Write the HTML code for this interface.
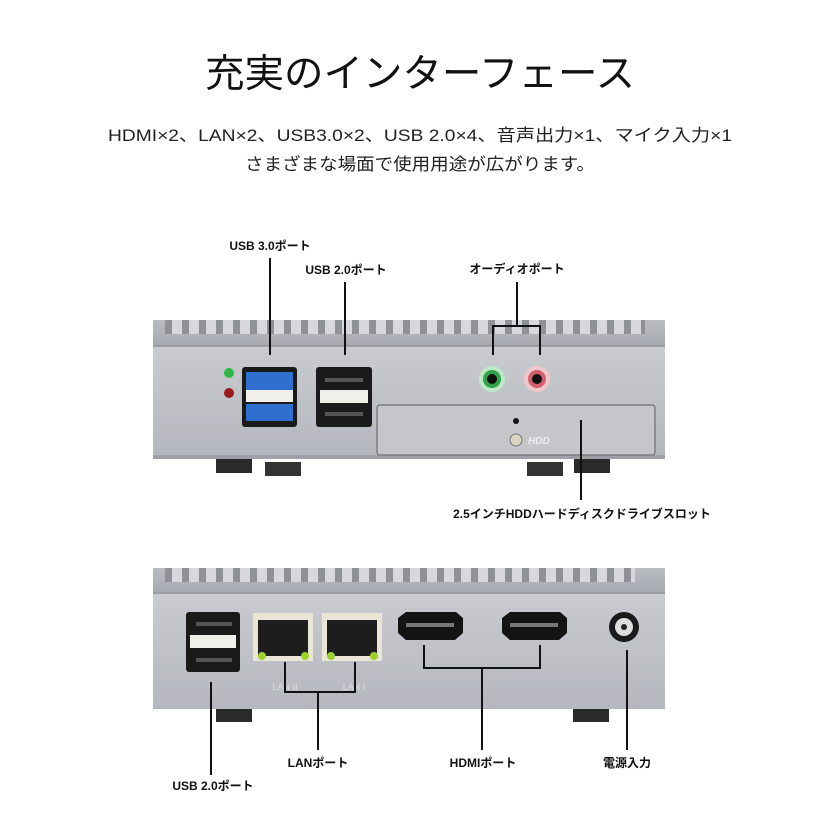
<!DOCTYPE html>
<html><head><meta charset="utf-8"><style>
html,body{margin:0;padding:0;background:#fff;}
svg{display:block;}
text{font-family:"Liberation Sans","Noto Sans CJK JP",sans-serif;}
</style></head><body>
<svg width="840" height="840" viewBox="0 0 840 840" xmlns="http://www.w3.org/2000/svg">
<defs>
<linearGradient id="face" x1="0" y1="0" x2="0" y2="1"><stop offset="0" stop-color="#c9cbd0"/><stop offset="1" stop-color="#b4b7bd"/></linearGradient>
<linearGradient id="top" x1="0" y1="0" x2="0" y2="1"><stop offset="0" stop-color="#b9bcc1"/><stop offset="1" stop-color="#a5a8ae"/></linearGradient>
<pattern id="fins" x="165" y="0" width="17" height="30" patternUnits="userSpaceOnUse"><rect x="0" y="0" width="7" height="30" fill="#8e9197"/><rect x="7" y="0" width="10" height="30" fill="#d6d8db"/></pattern>
</defs>
<rect width="840" height="840" fill="#fff"/>
<text x="420" y="87" font-size="39" text-anchor="middle" textLength="430" lengthAdjust="spacingAndGlyphs" fill="#111">充実のインターフェース</text>
<text x="420" y="141" font-size="17" text-anchor="middle" textLength="624" lengthAdjust="spacingAndGlyphs" fill="#222">HDMI×2、LAN×2、USB3.0×2、USB 2.0×4、音声出力×1、マイク入力×1</text>
<text x="420" y="170" font-size="17" text-anchor="middle" textLength="350" lengthAdjust="spacingAndGlyphs" fill="#222">さまざまな場面で使用用途が広がります。</text>

<!-- TOP DEVICE -->
<rect x="216" y="455" width="36" height="18" fill="#2a2a2a"/>
<rect x="265" y="462" width="36" height="14" fill="#333"/>
<rect x="527" y="462" width="36" height="14" fill="#333"/>
<rect x="574" y="455" width="36" height="18" fill="#2a2a2a"/>
<rect x="153" y="320" width="512" height="28" fill="url(#top)"/>
<rect x="165" y="320" width="480" height="14" fill="url(#fins)"/>
<rect x="153" y="346" width="512" height="110" fill="url(#face)"/>
<line x1="153" y1="346" x2="665" y2="346" stroke="#8f9298" stroke-width="1.5"/>
<rect x="153" y="455" width="512" height="4" fill="#9da0a5"/>
<circle cx="229" cy="373" r="5" fill="#2fb84a"/>
<circle cx="229" cy="393" r="5" fill="#9c1a1a"/>
<rect x="242" y="367" width="55" height="60" rx="3" fill="#1a1a1a"/>
<rect x="246" y="372" width="47" height="18" fill="#2e6fd0"/>
<rect x="246" y="390" width="47" height="12" fill="#f0efea"/>
<rect x="246" y="404" width="47" height="17" fill="#2e6fd0"/>
<rect x="316" y="367" width="56" height="60" rx="3" fill="#1a1a1a"/>
<rect x="320" y="390" width="48" height="13" fill="#f0efea"/>
<rect x="325" y="378" width="38" height="4" fill="#555"/>
<rect x="325" y="412" width="38" height="4" fill="#555"/>
<circle cx="492" cy="379" r="13" fill="#bfe8c8"/><circle cx="492" cy="379" r="9" fill="#2fa24a"/><circle cx="492" cy="379" r="5" fill="#111"/>
<circle cx="537" cy="379" r="13" fill="#f0c8cc"/><circle cx="537" cy="379" r="9" fill="#d0606c"/><circle cx="537" cy="379" r="5" fill="#111"/>
<rect x="377" y="405" width="278" height="50" rx="3" fill="#c4c6ca" stroke="#7a7d82" stroke-width="1.5"/>
<circle cx="516" cy="421" r="3" fill="#111"/>
<circle cx="516" cy="440" r="6" fill="#d9d6bf" stroke="#777"/>
<text x="528" y="444" font-size="10" font-style="italic" font-weight="bold" fill="#eee">HDD</text>

<g stroke="#111" stroke-width="2" fill="none">
<line x1="270" y1="258" x2="270" y2="355"/>
<line x1="345" y1="282" x2="345" y2="355"/>
<polyline points="517,282 517,326"/>
<polyline points="493,355 493,326 540,326 540,355"/>
<line x1="581" y1="420" x2="581" y2="500"/>
</g>
<g font-size="12" font-weight="bold" text-anchor="middle" fill="#111">
<text x="270" y="250">USB 3.0ポート</text>
<text x="346" y="274">USB 2.0ポート</text>
<text x="517" y="273">オーディオポート</text>
<text x="582" y="518">2.5インチHDDハードディスクドライブスロット</text>
</g>

<!-- BOTTOM DEVICE -->
<rect x="216" y="708" width="36" height="14" fill="#2a2a2a"/>
<rect x="573" y="708" width="36" height="14" fill="#2a2a2a"/>
<rect x="153" y="568" width="512" height="27" fill="url(#top)"/>
<rect x="165" y="568" width="470" height="14" fill="url(#fins)"/>
<rect x="153" y="593" width="512" height="116" fill="url(#face)"/>
<line x1="153" y1="593" x2="665" y2="593" stroke="#8f9298" stroke-width="1.5"/>
<rect x="186" y="612" width="54" height="60" rx="3" fill="#1a1a1a"/>
<rect x="190" y="635" width="46" height="13" fill="#f0efea"/>
<rect x="196" y="622" width="36" height="4" fill="#555"/>
<rect x="196" y="658" width="36" height="4" fill="#555"/>
<rect x="253" y="613" width="60" height="48" fill="#e9e6d8"/><rect x="258" y="620" width="50" height="36" fill="#1d1d1d"/>
<circle cx="262" cy="656" r="4" fill="#9fd02c"/><circle cx="305" cy="656" r="4" fill="#9fd02c"/>
<rect x="322" y="613" width="60" height="48" fill="#e9e6d8"/><rect x="327" y="620" width="50" height="36" fill="#1d1d1d"/>
<circle cx="331" cy="656" r="4" fill="#9fd02c"/><circle cx="374" cy="656" r="4" fill="#9fd02c"/>
<path d="M398 618 L406 612 L456 612 L463 618 L463 633 L455 640 L406 640 L398 633 Z" fill="#141414"/>
<rect x="406" y="623" width="48" height="4" fill="#777"/>
<path d="M502 618 L510 612 L560 612 L567 618 L567 633 L559 640 L510 640 L502 633 Z" fill="#141414"/>
<rect x="510" y="623" width="48" height="4" fill="#777"/>
<circle cx="624" cy="627" r="15" fill="#1a1a1a"/><circle cx="624" cy="627" r="9" fill="#ddd"/><circle cx="624" cy="627" r="3" fill="#222"/>
<g fill="#ddd" font-size="9" text-anchor="middle">
<text x="285" y="690">LAN II</text><text x="354" y="690">LAN I</text>
</g>

<g stroke="#111" stroke-width="2" fill="none">
<line x1="211" y1="682" x2="211" y2="775"/>
<polyline points="285,662 285,692 355,692 355,662"/>
<line x1="318" y1="692" x2="318" y2="750"/>
<polyline points="424,645 424,668 540,668 540,645"/>
<line x1="482" y1="668" x2="482" y2="750"/>
<line x1="627" y1="650" x2="627" y2="750"/>
</g>
<g font-size="12" font-weight="bold" text-anchor="middle" fill="#111">
<text x="213" y="790">USB 2.0ポート</text>
<text x="318" y="767">LANポート</text>
<text x="483" y="767">HDMIポート</text>
<text x="627" y="767">電源入力</text>
</g>
</svg>
</body></html>
